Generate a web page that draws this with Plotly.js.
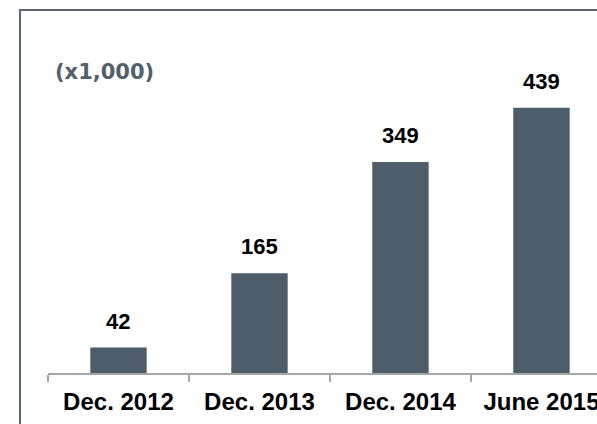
<!DOCTYPE html>
<html>
<head>
<meta charset="utf-8">
<script src="https://cdn.plot.ly/plotly-3.0.1.min.js"></script>
<style>
html,body{margin:0;padding:0;overflow:hidden;background:#fff;}
#chart{width:597px;height:424px;}
</style>
</head>
<body>
<div id="chart"></div>
<script>
var categories = ["Dec. 2012", "Dec. 2013", "Dec. 2014", "June 2015"];
var values = [42, 165, 349, 439];
var valueLabels = ["42", "165", "349", "439"];
var unitLabel = "(x1,000)";

var barColor = "#4e5d6a";

var trace = {
  type: "bar",
  x: categories,
  y: values,
  width: 0.4,
  marker: {color: barColor, line: {width: 0}},
  hoverinfo: "none"
};

var annotations = categories.map(function(c, i) {
  return {
    x: c, y: values[i], xref: "x", yref: "y",
    text: valueLabels[i], showarrow: false,
    yanchor: "bottom", yshift: 12,
    font: {family: "Liberation Sans, Arial, sans-serif", size: 22, color: "#000000", weight: "bold"}
  };
});
annotations.push({
  x: 0.010, y: 0.962, xref: "paper", yref: "paper",
  xanchor: "left", yanchor: "middle",
  text: "<b>" + unitLabel + "</b>", showarrow: false,
  font: {family: "DejaVu Sans, Verdana, sans-serif", size: 21, color: "#52606b", weight: "bold"}
});

var layout = {
  width: 597, height: 424,
  margin: {l: 48, r: 0, t: 60, b: 51, pad: 0},
  paper_bgcolor: "#ffffff",
  plot_bgcolor: "#ffffff",
  showlegend: false,
  xaxis: {
    type: "category",
    range: [-0.5, 3.394],
    showline: true, linecolor: "#a6a6a6", linewidth: 1.5,
    ticks: "outside", tickson: "boundaries", ticklen: 7, tickcolor: "#a6a6a6", tickwidth: 1.5,
    ticklabelstandoff: 7,
    showgrid: false, zeroline: false,
    tickfont: {family: "Liberation Sans, Arial, sans-serif", size: 24, color: "#000000", weight: "bold"},
    fixedrange: true
  },
  yaxis: {
    visible: false, range: [0, 518], fixedrange: true
  },
  annotations: annotations,
  shapes: [{
    type: "rect", xref: "paper", yref: "paper",
    x0: -0.051, x1: 1.1, y0: -0.25, y1: 1.16,
    line: {color: "#5b6670", width: 2}, fillcolor: "rgba(0,0,0,0)", layer: "below"
  }]
};

Plotly.newPlot("chart", [trace], layout, {displayModeBar: false, staticPlot: true});
</script>
</body>
</html>
